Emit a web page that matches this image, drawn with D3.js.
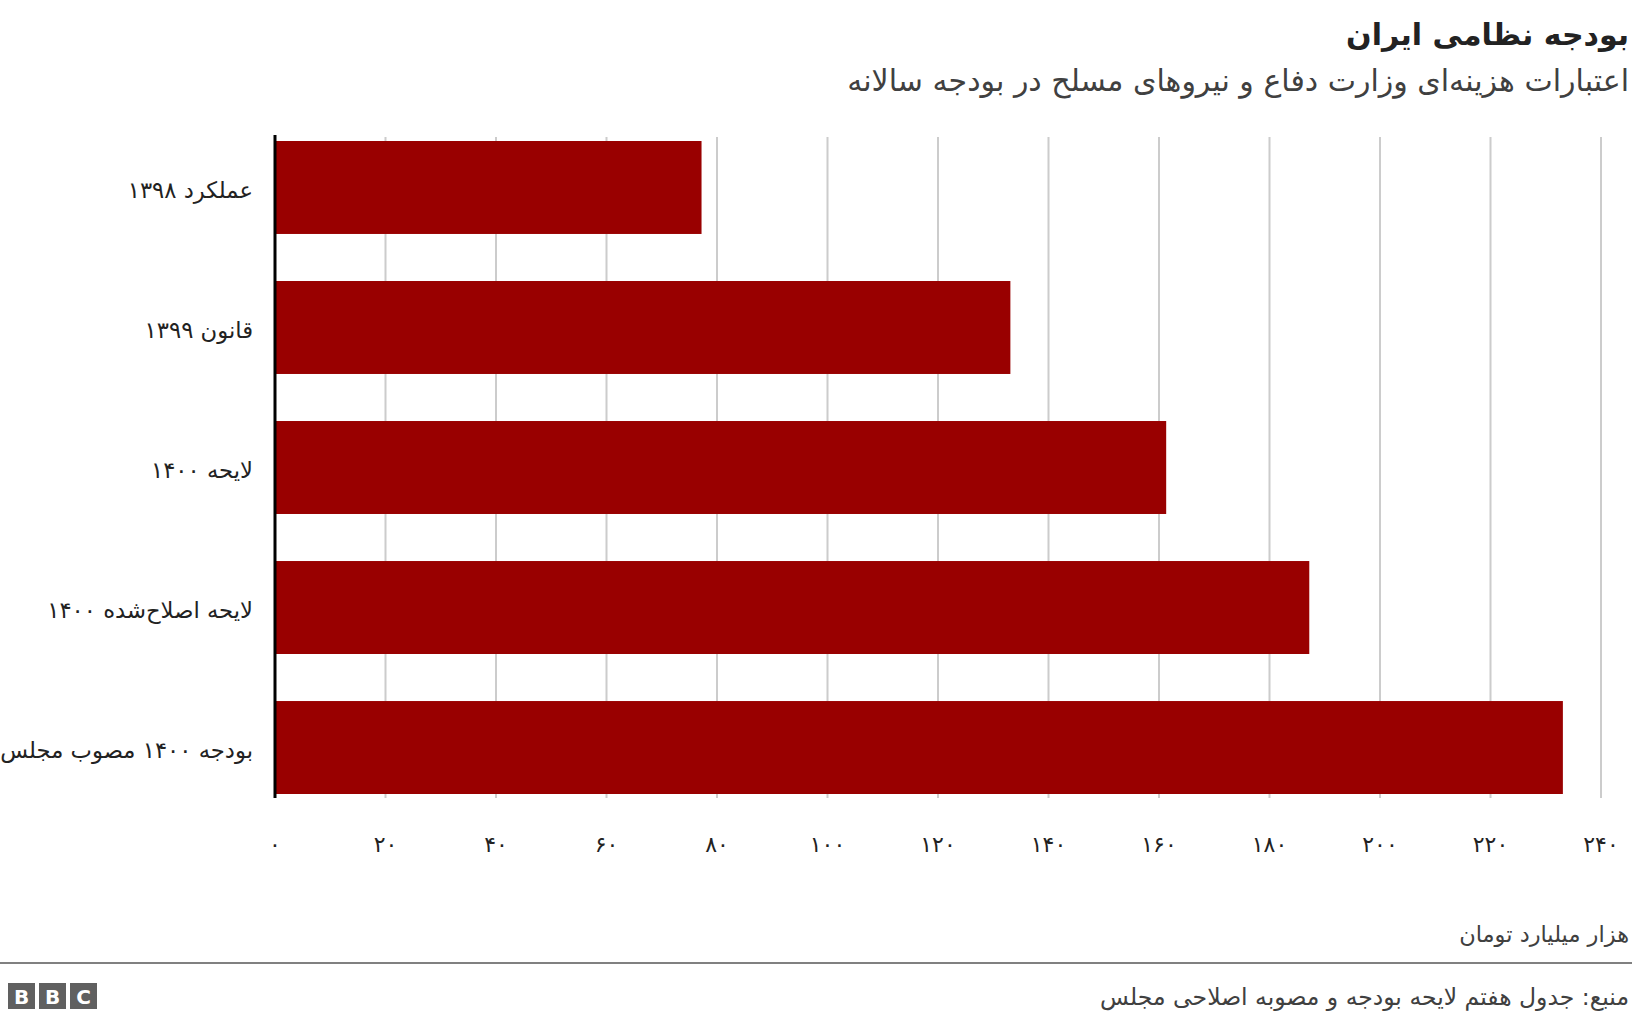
<!DOCTYPE html>
<html lang="fa">
<head>
<meta charset="utf-8">
<script src="https://cdn.jsdelivr.net/npm/d3@7"></script>
<style>
  body { margin: 0; background: #fff; }
  svg text { font-family: "DejaVu Sans", sans-serif; }
</style>
</head>
<body>
<div id="viz"></div>
<script>
// Datos del gráfico
let categorias = ['عملکرد ۱۳۹۸', 'قانون ۱۳۹۹', 'لایحه ۱۴۰۰', 'لایحه اصلاح‌شده ۱۴۰۰', 'بودجه ۱۴۰۰ مصوب مجلس'];
let valores = [77.2, 133.1, 161.3, 187.2, 233.1];
let ticks = [0, 20, 40, 60, 80, 100, 120, 140, 160, 180, 200, 220, 240];
let etiquetasTicks = ['۰', '۲۰', '۴۰', '۶۰', '۸۰', '۱۰۰', '۱۲۰', '۱۴۰', '۱۶۰', '۱۸۰', '۲۰۰', '۲۲۰', '۲۴۰'];

let titulo = 'بودجه نظامی ایران';
let subtitulo = 'اعتبارات هزینه‌ای وزارت دفاع و نیروهای مسلح در بودجه سالانه';
let unidad = 'هزار میلیارد تومان';
let fuente = 'منبع: جدول هفتم لایحه بودجه و مصوبه اصلاحی مجلس';

let w = 1632;
let h = 1020;

let svg = d3.select('#viz')
    .append('svg')
        .attr('width', w)
        .attr('height', h);

// Escalas
let x = d3.scaleLinear()
    .domain([0, 240])
    .range([275, 1601]);

let y = d3.scaleBand()
    .domain(categorias)
    .range([141, 794])
    .paddingInner(0.336)
    .paddingOuter(0);

// Líneas de la grilla
svg.append('g')
    .selectAll('line')
    .data(ticks.slice(1))
    .enter()
    .append('line')
        .attr('x1', d => x(d))
        .attr('x2', d => x(d))
        .attr('y1', 137)
        .attr('y2', 798)
        .attr('stroke', '#cccccc')
        .attr('stroke-width', 2);

// Barras
svg.selectAll('.barra')
    .data(valores)
    .enter()
    .append('rect')
        .attr('class', 'barra')
        .attr('x', x(0))
        .attr('y', (d, i) => y(categorias[i]))
        .attr('width', d => x(d) - x(0))
        .attr('height', y.bandwidth())
        .attr('fill', '#990000');

// Eje vertical
svg.append('line')
    .attr('x1', x(0))
    .attr('x2', x(0))
    .attr('y1', 135)
    .attr('y2', 798)
    .attr('stroke', '#000')
    .attr('stroke-width', 3);

// Etiquetas de categorías
svg.selectAll('.etiqueta')
    .data(categorias)
    .enter()
    .append('text')
        .attr('class', 'etiqueta')
        .attr('x', 253)
        .attr('y', d => y(d) + y.bandwidth() / 2 + 3)
        .attr('dy', '0.35em')
        .attr('direction', 'rtl')
        .attr('text-anchor', 'start')
        .style('font-size', '22.7px')
        .style('fill', '#222')
        .text(d => d);

// Etiquetas del eje X
svg.selectAll('.tick-label')
    .data(ticks)
    .enter()
    .append('text')
        .attr('class', 'tick-label')
        .attr('x', d => x(d))
        .attr('y', 852)
        .attr('text-anchor', 'middle')
        .style('font-size', '22px')
        .style('fill', '#222')
        .text((d, i) => etiquetasTicks[i]);

// Título y subtítulo
svg.append('text')
    .attr('x', 1629)
    .attr('y', 45)
    .attr('direction', 'rtl')
    .attr('text-anchor', 'start')
    .style('font-size', '30px')
    .style('font-weight', 'bold')
    .style('fill', '#222')
    .text(titulo);

svg.append('text')
    .attr('x', 1629)
    .attr('y', 91)
    .attr('direction', 'rtl')
    .attr('text-anchor', 'start')
    .style('font-size', '30px')
    .style('fill', '#404040')
    .text(subtitulo);

// Unidad
svg.append('text')
    .attr('x', 1629)
    .attr('y', 942)
    .attr('direction', 'rtl')
    .attr('text-anchor', 'start')
    .style('font-size', '22.5px')
    .style('fill', '#404040')
    .text(unidad);

// Pie de página
svg.append('line')
    .attr('x1', 0)
    .attr('x2', w)
    .attr('y1', 963)
    .attr('y2', 963)
    .attr('stroke', '#808080')
    .attr('stroke-width', 2);

svg.append('text')
    .attr('x', 1629)
    .attr('y', 1005)
    .attr('direction', 'rtl')
    .attr('text-anchor', 'start')
    .style('font-size', '23.5px')
    .style('fill', '#404040')
    .text(fuente);

// Logo BBC
let logo = svg.append('g').attr('transform', 'translate(8,983)');
['B', 'B', 'C'].forEach(function(letra, i) {
    logo.append('rect')
        .attr('x', i * 31)
        .attr('y', 0)
        .attr('width', 27)
        .attr('height', 26)
        .attr('fill', '#606060');
    logo.append('text')
        .attr('x', i * 31 + 13.5)
        .attr('y', 21)
        .attr('text-anchor', 'middle')
        .style('font-size', '20px')
        .style('font-weight', 'bold')
        .style('fill', '#fff')
        .text(letra);
});
</script>
</body>
</html>
